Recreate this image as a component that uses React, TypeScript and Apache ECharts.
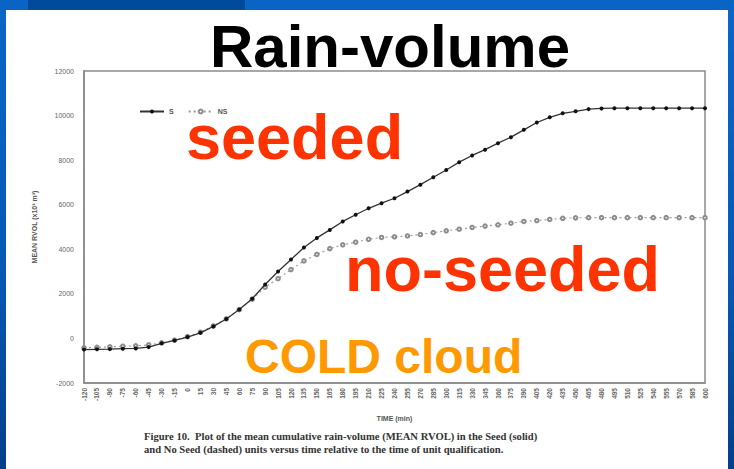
import React, { useEffect, useRef } from "react";
import * as echarts from "echarts";

const times = [
  -120, -105, -90, -75, -60, -45, -30, -15, 0, 15, 30, 45, 60, 75, 90, 105, 120,
  135, 150, 165, 180, 195, 210, 225, 240, 255, 270, 285, 300, 315, 330, 345, 360,
  375, 390, 405, 420, 435, 450, 465, 480, 495, 510, 525, 540, 555, 570, 585, 600,
];

const seedValues = [
  -500, -490, -480, -460, -450, -390, -220, -90, 60, 250, 540, 870, 1300, 1780,
  2420, 3000, 3540, 4080, 4510, 4870, 5250, 5550, 5840, 6070, 6290, 6590, 6900,
  7230, 7560, 7910, 8210, 8470, 8760, 9030, 9360, 9690, 9920, 10100, 10190, 10290,
  10320, 10330, 10330, 10330, 10330, 10330, 10330, 10330, 10330,
];

const noSeedValues = [
  -420, -400, -380, -350, -330, -290, -200, -80, 80, 280, 560, 880, 1290, 1760,
  2300, 2680, 3090, 3480, 3770, 4030, 4200, 4320, 4450, 4530, 4560, 4600, 4660,
  4750, 4830, 4900, 4980, 5040, 5100, 5170, 5250, 5290, 5340, 5390, 5410, 5420,
  5420, 5420, 5420, 5420, 5420, 5420, 5420, 5420, 5420,
];

const seriesNames = ["S", "NS"];
const titleText = "Rain-volume";
const yAxisTitle = "MEAN RVOL (x10\u00b3 m\u00b3)";
const xAxisTitle = "TIME (min)";
const annotations = ["seeded", "no-seeded", "COLD cloud"];
const captionLines = [
  "Figure 10.  Plot of the mean cumulative rain-volume (MEAN RVOL) in the Seed (solid)",
  "and No Seed (dashed) units versus time relative to the time of unit qualification.",
];

export default function App() {
  const ref = useRef<HTMLDivElement>(null);

  useEffect(() => {
    if (!ref.current) return;
    const chart = echarts.init(ref.current, undefined, { renderer: "svg" });
    const pair = (vals: number[]) => times.map((t, i) => [t, vals[i]]);
    chart.setOption({
      animation: false,
      backgroundColor: "transparent",
      textStyle: { fontFamily: "Liberation Sans" },
      grid: {
        left: 84,
        right: 29,
        top: 71,
        bottom: 86,
        show: true,
        borderColor: "#8a8a8a",
        borderWidth: 1.5,
        backgroundColor: "transparent",
      },
      legend: {
        left: 134,
        top: 103,
        itemWidth: 24,
        itemHeight: 5,
        itemGap: 14,
        textStyle: { fontSize: 7, color: "#555", fontWeight: "bold" },
        data: seriesNames,
      },
      xAxis: {
        type: "value",
        min: -120,
        max: 600,
        interval: 15,
        name: xAxisTitle,
        nameLocation: "middle",
        nameGap: 32,
        nameTextStyle: { fontSize: 7, fontWeight: "bold", color: "#555" },
        axisLine: { show: true, onZero: false, lineStyle: { color: "#8a8a8a", width: 1.5 } },
        axisTick: { show: false },
        splitLine: { show: false },
        axisLabel: { rotate: 90, fontSize: 6.5, color: "#666", margin: 5, fontWeight: "bold" },
      },
      yAxis: {
        type: "value",
        min: -2000,
        max: 12000,
        interval: 2000,
        name: yAxisTitle,
        nameLocation: "middle",
        nameGap: 46,
        nameTextStyle: { fontSize: 7, fontWeight: "bold", color: "#555" },
        axisLine: { show: true, onZero: false, lineStyle: { color: "#8a8a8a", width: 1.5 } },
        axisTick: { show: false },
        splitLine: { show: false },
        axisLabel: { fontSize: 7, color: "#666", margin: 10, formatter: (v: number) => String(v) },
      },
      series: [
        {
          name: seriesNames[0],
          type: "line",
          data: pair(seedValues),
          symbol: "circle",
          symbolSize: 4,
          itemStyle: { color: "#111" },
          lineStyle: { color: "#333", width: 1.3 },
          z: 3,
        },
        {
          name: seriesNames[1],
          type: "line",
          data: pair(noSeedValues),
          symbol: "emptyCircle",
          symbolSize: 3.5,
          itemStyle: { color: "#8c8c8c", borderWidth: 1.1 },
          lineStyle: { color: "#999", width: 1.1, type: [2, 3] },
          z: 2,
        },
      ],
      graphic: [
        {
          type: "text",
          x: 390,
          y: 16,
          style: {
            text: titleText,
            fontSize: 60,
            fontWeight: "bold",
            fontFamily: "Liberation Sans",
            fill: "#000",
            textAlign: "center",
          },
        },
        {
          type: "text",
          x: 186,
          y: 105,
          style: {
            text: annotations[0],
            fontSize: 63,
            fontWeight: "bold",
            fontFamily: "Liberation Sans",
            fill: "#ff3300",
          },
        },
        {
          type: "text",
          x: 345,
          y: 237,
          style: {
            text: annotations[1],
            fontSize: 63,
            fontWeight: "bold",
            fontFamily: "Liberation Sans",
            fill: "#ff3300",
          },
        },
        {
          type: "text",
          x: 245,
          y: 332,
          style: {
            text: annotations[2],
            fontSize: 48,
            fontWeight: "bold",
            fontFamily: "Liberation Sans",
            fill: "#ff9900",
          },
        },
        {
          type: "text",
          x: 144,
          y: 430,
          style: {
            text: captionLines.join("\n"),
            fontSize: 10.6,
            lineHeight: 13,
            fontWeight: "bold",
            fontFamily: "Liberation Serif",
            fill: "#333",
          },
        },
      ],
    });
    return () => chart.dispose();
  }, []);

  return (
    <div
      style={{
        position: "absolute",
        left: 0,
        top: 0,
        width: 734,
        height: 469,
        background: "linear-gradient(180deg, #0a66c8 0%, #0758b4 60%, #043f8a 100%)",
        overflow: "hidden",
      }}
    >
      <div
        style={{
          position: "absolute",
          left: 0,
          top: 0,
          width: 734,
          height: 10,
          background:
            "linear-gradient(90deg, #0a64c6 0px, #0a64c6 28px, #004a9c 28px, #004a9c 245px, #0a64c6 245px)",
        }}
      />
      <div
        style={{
          position: "absolute",
          left: 6,
          top: 10,
          width: 722,
          height: 459,
          background: "#ffffff",
        }}
      />
      <div
        ref={ref}
        style={{ position: "absolute", left: 0, top: 0, width: 734, height: 469 }}
      />
    </div>
  );
}
